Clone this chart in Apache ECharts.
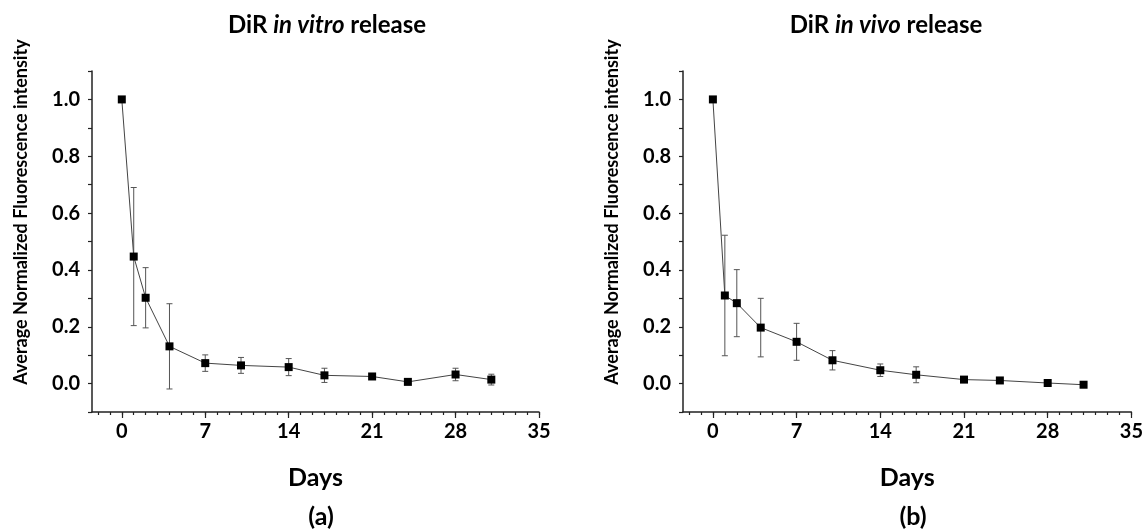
<!DOCTYPE html>
<html>
<head>
<meta charset="utf-8">
<script src="https://cdn.jsdelivr.net/npm/echarts@6/dist/echarts.min.js"></script>
<style>
html,body{margin:0;padding:0;background:#fff;}
#chart{width:1146px;height:530px;}
</style>
</head>
<body>
<div id="chart"></div>
<script>
// ---- data ----
const daysVitro = [0, 1, 2, 4, 7, 10, 14, 17, 21, 24, 28, 31];
const valuesVitro = [1.0, 0.447, 0.302, 0.131, 0.072, 0.064, 0.058, 0.029, 0.025, 0.006, 0.032, 0.014];
const errorsVitro = [0, 0.243, 0.106, 0.150, 0.029, 0.028, 0.030, 0.025, 0.010, 0, 0.022, 0.019];

const daysVivo = [0, 1, 2, 4, 7, 10, 14, 17, 21, 24, 28, 31];
const valuesVivo = [1.0, 0.310, 0.283, 0.197, 0.147, 0.082, 0.047, 0.031, 0.014, 0.011, 0.002, -0.004];
const errorsVivo = [0, 0.212, 0.118, 0.103, 0.065, 0.034, 0.022, 0.028, 0, 0, 0, 0];

const xMajorTicks = [0, 7, 14, 21, 28, 35];
const xMinorTicks = [-2, -1, 0, 1, 2, 3, 4, 5, 6, 7, 8, 9, 10, 11, 12, 13, 14, 15, 16, 17, 18, 19, 20, 21, 22, 23, 24, 25, 26, 27, 28, 29, 30, 31, 32, 33, 34, 35];
const yLabelTicks = [0.0, 0.2, 0.4, 0.6, 0.8, 1.0];

const yAxisTitle = 'Average Normalized Fluorescence intensity';
const xAxisTitle = 'Days';

// ---- chart ----
const FONT = 'Lato';
const AXIS_COLOR = '#222';

function pts(days, vals) { return days.map((d, i) => [d, vals[i]]); }
function errs(days, vals, e) {
  const out = [];
  days.forEach((d, i) => { if (e[i] > 0) out.push([d, vals[i] - e[i], vals[i] + e[i]]); });
  return out;
}

function errRender(params, api) {
  const x = api.value(0), lo = api.value(1), hi = api.value(2);
  const t = api.coord([x, hi]), b = api.coord([x, lo]);
  const w = 3;
  const st = { stroke: '#555', lineWidth: 1 };
  return {
    type: 'group',
    children: [
      { type: 'line', shape: { x1: t[0], y1: t[1], x2: b[0], y2: b[1] }, style: st },
      { type: 'line', shape: { x1: t[0] - w, y1: t[1], x2: t[0] + w, y2: t[1] }, style: st },
      { type: 'line', shape: { x1: b[0] - w, y1: b[1], x2: b[0] + w, y2: b[1] }, style: st }
    ]
  };
}

function makeX(gridIndex) {
  return [{
    gridIndex, type: 'value', min: -2.5, max: 35, position: 'bottom',
    name: xAxisTitle, nameLocation: 'middle', nameGap: 53,
    nameTextStyle: { fontFamily: FONT, fontWeight: 'bold', fontSize: 25, color: '#000' },
    axisLine: { show: true, onZero: false, lineStyle: { color: AXIS_COLOR, width: 1.5 } },
    axisTick: { show: true, customValues: xMajorTicks, length: 6, lineStyle: { color: AXIS_COLOR, width: 1.2 } },
    axisLabel: { show: true, customValues: xMajorTicks, margin: 10, fontFamily: FONT, fontWeight: 'bold', fontSize: 20, color: '#000' },
    splitLine: { show: false }
  }, {
    gridIndex, type: 'value', min: -2.5, max: 35, position: 'bottom',
    axisLine: { show: false, onZero: false },
    axisTick: { show: true, customValues: xMinorTicks, length: 3, lineStyle: { color: AXIS_COLOR, width: 1.2 } },
    axisLabel: { show: false },
    splitLine: { show: false }
  }];
}

function makeY(gridIndex) {
  return {
    gridIndex, type: 'value', min: -0.1, max: 1.1, interval: 0.1,
    axisLine: { show: true, onZero: false, lineStyle: { color: AXIS_COLOR, width: 1.5 } },
    axisTick: { show: true, length: 4, lineStyle: { color: AXIS_COLOR, width: 1.2 } },
    axisLabel: {
      margin: 12, fontFamily: FONT, fontWeight: 'bold', fontSize: 20, color: '#000',
      formatter: v => {
        const hit = yLabelTicks.find(t => Math.abs(t - v) < 1e-6);
        return hit === undefined ? '' : hit.toFixed(1);
      }
    },
    splitLine: { show: false }
  };
}

function lineSeries(xi, yi, data) {
  return {
    type: 'line', xAxisIndex: xi, yAxisIndex: yi, data,
    symbol: 'rect', symbolSize: 8, showSymbol: true,
    itemStyle: { color: '#000' },
    lineStyle: { color: '#444', width: 1 },
    z: 3, animation: false
  };
}
function errSeries(xi, yi, data) {
  return { type: 'custom', xAxisIndex: xi, yAxisIndex: yi, data, renderItem: errRender, z: 2, animation: false,
    encode: { x: 0, y: [1, 2] } };
}

const titleStyle = {
  fontFamily: FONT, fontSize: 24, fontWeight: 'bold', color: '#000',
  rich: {
    b: { fontFamily: FONT, fontSize: 24, fontWeight: 'bold', color: '#000' },
    i: { fontFamily: FONT, fontSize: 24, fontWeight: 'bold', fontStyle: 'italic', color: '#000' }
  }
};
const panelStyle = { fontFamily: FONT, fontSize: 25, fontWeight: 'bold', color: '#000' };

function yTitle(cx) {
  return {
    type: 'text', x: cx, y: 212, rotation: Math.PI / 2,
    style: {
      text: yAxisTitle, fill: '#000',
      font: 'bold 18px ' + FONT,
      textAlign: 'center', textVerticalAlign: 'middle', verticalAlign: 'middle', align: 'center'
    }
  };
}

const option = {
  backgroundColor: '#fff',
  animation: false,
  title: [
    { text: '{b|DiR }{i|in vitro}{b| release}', left: 322, top: 8, textAlign: 'center', textStyle: titleStyle },
    { text: '{b|DiR }{i|in vivo}{b| release}', left: 881, top: 8, textAlign: 'center', textStyle: titleStyle },
    { text: '(a)', left: 316, top: 499, textAlign: 'center', textStyle: panelStyle },
    { text: '(b)', left: 908, top: 499, textAlign: 'center', textStyle: panelStyle }
  ],
  graphic: [yTitle(21), yTitle(612)],
  grid: [
    { left: 92, right: 1146 - 539, top: 71, bottom: 530 - 412, containLabel: false },
    { left: 683, right: 1146 - 1133, top: 71, bottom: 530 - 412, containLabel: false }
  ],
  xAxis: [...makeX(0), ...makeX(1)],
  yAxis: [makeY(0), makeY(1)],
  series: [
    errSeries(0, 0, errs(daysVitro, valuesVitro, errorsVitro)),
    lineSeries(0, 0, pts(daysVitro, valuesVitro)),
    errSeries(2, 1, errs(daysVivo, valuesVivo, errorsVivo)),
    lineSeries(2, 1, pts(daysVivo, valuesVivo))
  ]
};

const chart = echarts.init(document.getElementById('chart'), null, { renderer: 'canvas' });
chart.setOption(option);
</script>
</body>
</html>
